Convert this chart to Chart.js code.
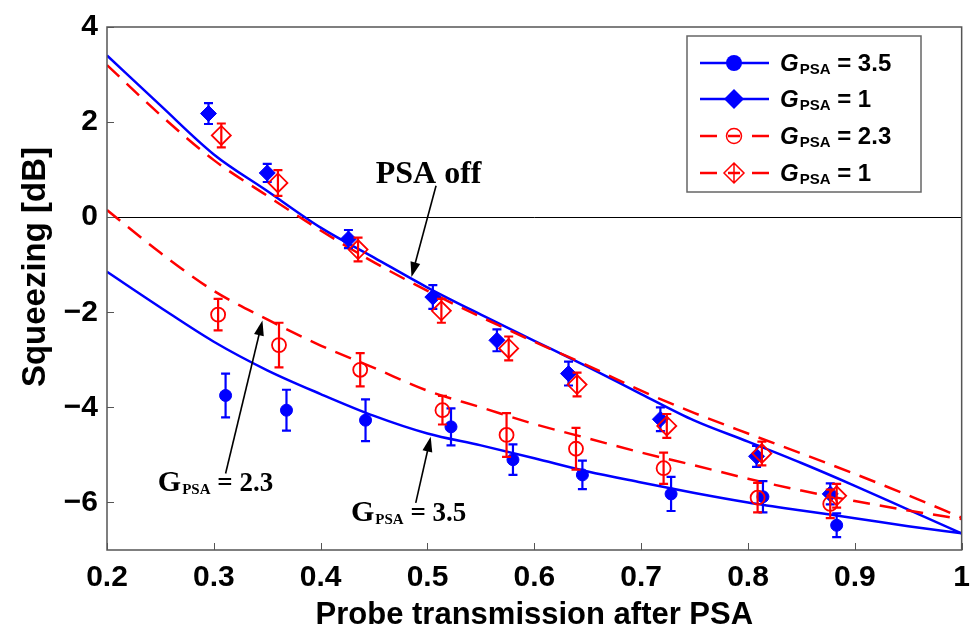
<!DOCTYPE html>
<html>
<head>
<meta charset="utf-8">
<script src="https://cdn.jsdelivr.net/npm/chart.js@4.4.0/dist/chart.umd.min.js"></script>
<style>
  html, body { margin: 0; background: #fff; }
</style>
</head>
<body>
<canvas id="chart" width="980" height="634"></canvas>
<script>
// ---------------- DATA ----------------
const xTicks = [0.2, 0.3, 0.4, 0.5, 0.6, 0.7, 0.8, 0.9, 1];
const yTicks = [-6, -4, -2, 0, 2, 4];

// theory curves, sampled along the transmission axis
const curveX   = [0.2, 0.25, 0.3, 0.35, 0.4, 0.45, 0.5, 0.55, 0.6, 0.65, 0.7, 0.75, 0.8, 0.85, 0.9, 0.95, 1.0];
const fitOffG1 = [3.4, 2.35, 1.32, 0.55, -0.22, -0.85, -1.48, -2.05, -2.6, -3.15, -3.72, -4.28, -4.72, -5.17, -5.65, -6.15, -6.65];
const fitG35   = [-1.15, -1.9, -2.62, -3.22, -3.72, -4.18, -4.55, -4.8, -5.07, -5.35, -5.58, -5.8, -6.0, -6.17, -6.33, -6.5, -6.65];
const fitG23   = [0.15, -0.75, -1.55, -2.15, -2.7, -3.17, -3.65, -4.0, -4.35, -4.65, -4.95, -5.22, -5.5, -5.75, -5.97, -6.17, -6.35];
const fitOnG1  = [3.2, 2.15, 1.2, 0.45, -0.28, -0.95, -1.55, -2.1, -2.62, -3.12, -3.65, -4.12, -4.55, -4.97, -5.4, -5.85, -6.32];

// measured points
const blueCircX   = [0.311, 0.368, 0.442, 0.522, 0.580, 0.645, 0.728, 0.814, 0.883];
const blueCircY   = [-3.75, -4.06, -4.27, -4.41, -5.10, -5.42, -5.82, -5.88, -6.48];
const blueCircErr = [0.46, 0.43, 0.44, 0.39, 0.32, 0.30, 0.36, 0.33, 0.25];

const blueDiaX   = [0.295, 0.350, 0.426, 0.505, 0.565, 0.632, 0.718, 0.808, 0.877];
const blueDiaY   = [2.18, 0.93, -0.46, -1.68, -2.59, -3.29, -4.25, -5.03, -5.82];
const blueDiaErr = [0.22, 0.19, 0.19, 0.25, 0.23, 0.25, 0.25, 0.22, 0.22];

const redCircX   = [0.304, 0.361, 0.437, 0.514, 0.574, 0.639, 0.721, 0.809, 0.877];
const redCircY   = [-2.05, -2.69, -3.21, -4.06, -4.58, -4.87, -5.28, -5.90, -6.03];
const redCircErr = [0.33, 0.47, 0.35, 0.30, 0.46, 0.44, 0.33, 0.31, 0.30];

const redDiaX   = [0.307, 0.360, 0.435, 0.513, 0.576, 0.640, 0.724, 0.813, 0.883];
const redDiaY   = [1.72, 0.72, -0.68, -1.97, -2.76, -3.52, -4.39, -4.97, -5.86];
const redDiaErr = [0.25, 0.27, 0.25, 0.25, 0.25, 0.25, 0.25, 0.25, 0.25];

const legendGains = ['3.5', '1', '2.3', '1'];

const blue = '#0000ff';
const red = '#ff0000';
const sans = '"Liberation Sans", Arial, sans-serif';
const serif = '"Liberation Serif", "Times New Roman", serif';

function pts(xs, ys) {
    return xs.map((v, i) => ({ x: v, y: ys[i] }));
}

// ---------- error bars, drawn right after their own dataset ----------
const errorBars = {
    id: 'errorBars',
    afterDatasetDraw(chart, args) {
        const ds = chart.data.datasets[args.index];
        if (!ds.err) return;
        const { ctx, scales: { x, y } } = chart;
        ctx.save();
        ctx.strokeStyle = ds.borderColor;
        ctx.lineWidth = 2.2;
        ds.data.forEach((p, j) => {
            const px = x.getPixelForValue(p.x);
            const y1 = y.getPixelForValue(p.y + ds.err[j]);
            const y2 = y.getPixelForValue(p.y - ds.err[j]);
            ctx.beginPath();
            ctx.moveTo(px, y1); ctx.lineTo(px, y2);
            ctx.moveTo(px - 4.5, y1); ctx.lineTo(px + 4.5, y1);
            ctx.moveTo(px - 4.5, y2); ctx.lineTo(px + 4.5, y2);
            ctx.stroke();
        });
        ctx.restore();
    }
};

// ---------- zero line under the data ----------
const zeroLine = {
    id: 'zeroLine',
    beforeDatasetsDraw(chart) {
        const { ctx, chartArea: a, scales: { y } } = chart;
        const py = Math.round(y.getPixelForValue(0)) + 0.5;
        ctx.save();
        ctx.strokeStyle = '#000';
        ctx.lineWidth = 1;
        ctx.beginPath(); ctx.moveTo(a.left, py); ctx.lineTo(a.right, py); ctx.stroke();
        ctx.restore();
    }
};

function arrow(ctx, x1, y1, x2, y2) {
    const ang = Math.atan2(y2 - y1, x2 - x1);
    const len = 15, half = 5;
    ctx.beginPath();
    ctx.moveTo(x1, y1);
    ctx.lineTo(x2 - Math.cos(ang) * len * 0.8, y2 - Math.sin(ang) * len * 0.8);
    ctx.stroke();
    ctx.beginPath();
    ctx.moveTo(x2, y2);
    ctx.lineTo(x2 - Math.cos(ang) * len - Math.sin(ang) * half, y2 - Math.sin(ang) * len + Math.cos(ang) * half);
    ctx.lineTo(x2 - Math.cos(ang) * len + Math.sin(ang) * half, y2 - Math.sin(ang) * len - Math.cos(ang) * half);
    ctx.closePath();
    ctx.fill();
}

// G with a small PSA subscript, then " = value"
function gLabel(ctx, x, y, big, small, rest, fam, italic, value) {
    ctx.textAlign = 'left';
    ctx.textBaseline = 'alphabetic';
    ctx.font = (italic ? 'italic ' : '') + 'bold ' + big + 'px ' + fam;
    ctx.fillText('G', x, y);
    x += ctx.measureText('G').width + 1;
    ctx.font = 'bold ' + small + 'px ' + fam;
    ctx.fillText('PSA', x, y + 3);
    x += ctx.measureText('PSA').width;
    ctx.font = 'bold ' + rest + 'px ' + fam;
    ctx.fillText(' = ' + value, x, y);
}

// ---------- frame, ticks, y title, annotations, legend ----------
const decorations = {
    id: 'decorations',
    afterDraw(chart) {
        const { ctx, chartArea: a, scales: { x, y } } = chart;
        ctx.save();
        // box
        ctx.strokeStyle = '#555';
        ctx.lineWidth = 1.5;
        ctx.strokeRect(a.left, a.top, a.right - a.left, a.bottom - a.top);
        // inward ticks
        ctx.lineWidth = 1;
        ctx.beginPath();
        xTicks.forEach(v => {
            const px = Math.round(x.getPixelForValue(v)) + 0.5;
            ctx.moveTo(px, a.bottom); ctx.lineTo(px, a.bottom - 7);
        });
        yTicks.forEach(v => {
            const py = Math.round(y.getPixelForValue(v)) + 0.5;
            ctx.moveTo(a.left, py); ctx.lineTo(a.left + 7, py);
        });
        ctx.stroke();

        // y axis title
        ctx.fillStyle = '#000';
        ctx.save();
        ctx.translate(36, 267);
        ctx.rotate(-Math.PI / 2);
        ctx.font = 'bold 33px ' + sans;
        ctx.textAlign = 'center';
        ctx.textBaseline = 'middle';
        ctx.fillText('Squeezing [dB]', 0, 0);
        ctx.restore();

        // annotations
        ctx.strokeStyle = '#000';
        ctx.lineWidth = 1.6;
        ctx.font = 'bold 32px ' + serif;
        ctx.textAlign = 'center';
        ctx.textBaseline = 'alphabetic';
        ctx.fillText('PSA off', x.getPixelForValue(0.501), y.getPixelForValue(0.725));
        arrow(ctx, x.getPixelForValue(0.508), y.getPixelForValue(0.66), x.getPixelForValue(0.485), y.getPixelForValue(-1.26));
        arrow(ctx, x.getPixelForValue(0.311), y.getPixelForValue(-5.39), x.getPixelForValue(0.3455), y.getPixelForValue(-2.175));
        arrow(ctx, x.getPixelForValue(0.489), y.getPixelForValue(-6.01), x.getPixelForValue(0.503), y.getPixelForValue(-4.62));
        gLabel(ctx, x.getPixelForValue(0.2476), y.getPixelForValue(-5.76), 30, 15, 27, serif, false, '2.3');
        gLabel(ctx, x.getPixelForValue(0.4284), y.getPixelForValue(-6.40), 30, 15, 27, serif, false, '3.5');

        // legend
        const bx = 687, by = 36, bw = 234, bh = 156;
        ctx.fillStyle = '#fff';
        ctx.fillRect(bx, by, bw, bh);
        ctx.strokeStyle = '#666';
        ctx.lineWidth = 1.5;
        ctx.strokeRect(bx, by, bw, bh);
        const rows = [63, 99, 136, 173];
        const mx = 734;
        rows.forEach((ry, i) => {
            const isBlue = i < 2;
            const col = isBlue ? blue : red;
            ctx.strokeStyle = col;
            ctx.fillStyle = col;
            ctx.lineWidth = 2.5;
            ctx.beginPath();
            if (isBlue) {
                ctx.moveTo(700, ry); ctx.lineTo(769, ry);
            } else {
                ctx.moveTo(700, ry); ctx.lineTo(717, ry);
                ctx.moveTo(728, ry); ctx.lineTo(740, ry);
                ctx.moveTo(752, ry); ctx.lineTo(769, ry);
            }
            ctx.stroke();
            ctx.beginPath();
            if (i === 0) {
                ctx.arc(mx, ry, 8, 0, Math.PI * 2); ctx.fill();
            } else if (i === 1) {
                ctx.moveTo(mx, ry - 10); ctx.lineTo(mx + 10, ry); ctx.lineTo(mx, ry + 10); ctx.lineTo(mx - 10, ry);
                ctx.closePath(); ctx.fill();
            } else if (i === 2) {
                ctx.lineWidth = 1.5;
                ctx.arc(mx, ry, 7.5, 0, Math.PI * 2); ctx.stroke();
            } else {
                ctx.lineWidth = 1.5;
                ctx.moveTo(mx, ry - 10); ctx.lineTo(mx + 10, ry); ctx.lineTo(mx, ry + 10); ctx.lineTo(mx - 10, ry);
                ctx.closePath();
                ctx.moveTo(mx, ry - 10); ctx.lineTo(mx, ry + 10);
                ctx.stroke();
            }
            ctx.fillStyle = '#000';
            gLabel(ctx, 780, ry + 8, 24, 15, 24, sans, true, legendGains[i]);
        });
        ctx.restore();
    }
};

const curveStyle = { showLine: true, pointRadius: 0, borderWidth: 2.5, tension: 0.4, cubicInterpolationMode: 'monotone', fill: false };

new Chart(document.getElementById('chart'), {
    type: 'scatter',
    data: {
        datasets: [
            { label: 'G 3.5 data', data: pts(blueCircX, blueCircY), err: blueCircErr, pointStyle: 'circle', pointRadius: 6,
              backgroundColor: blue, borderColor: blue, borderWidth: 1, order: 4 },
            { label: 'G 1 data', data: pts(blueDiaX, blueDiaY), err: blueDiaErr, pointStyle: 'rectRot', pointRadius: 8,
              backgroundColor: blue, borderColor: blue, borderWidth: 1, order: 3 },
            { label: 'G 2.3 data', data: pts(redCircX, redCircY), err: redCircErr, pointStyle: 'circle', pointRadius: 7,
              backgroundColor: 'rgba(0,0,0,0)', borderColor: red, borderWidth: 1.8, order: 2 },
            { label: 'G 1 data (red)', data: pts(redDiaX, redDiaY), err: redDiaErr, pointStyle: 'rectRot', pointRadius: 9.5,
              backgroundColor: 'rgba(0,0,0,0)', borderColor: red, borderWidth: 1.8, order: 1 },
            { label: 'G 3.5 fit', data: pts(curveX, fitG35), borderColor: blue, ...curveStyle, order: 8 },
            { label: 'PSA off fit', data: pts(curveX, fitOffG1), borderColor: blue, ...curveStyle, order: 7 },
            { label: 'G 2.3 fit', data: pts(curveX, fitG23), borderColor: red, borderDash: [17, 10], ...curveStyle, order: 6 },
            { label: 'G 1 fit', data: pts(curveX, fitOnG1), borderColor: red, borderDash: [17, 10], ...curveStyle, order: 5 }
        ]
    },
    options: {
        responsive: false,
        animation: false,
        layout: { padding: { top: 19, right: 15, left: 0, bottom: 0 } },
        plugins: { legend: { display: false }, tooltip: { enabled: false } },
        scales: {
            x: {
                type: 'linear', min: 0.2, max: 1,
                afterBuildTicks: s => { s.ticks = xTicks.map(v => ({ value: v })); },
                afterFit: s => { s.height = 84; },
                grid: { display: false, drawTicks: false },
                border: { display: false },
                ticks: { padding: 10, color: '#000', maxRotation: 0, font: { family: sans, size: 30, weight: 'bold' },
                         callback: v => String(v) },
                title: { display: true, text: 'Probe transmission after PSA', color: '#000',
                         font: { family: sans, size: 31, weight: 'bold' }, padding: { bottom: 0 } }
            },
            y: {
                type: 'linear', min: -7, max: 4,
                afterBuildTicks: s => { s.ticks = yTicks.map(v => ({ value: v })); },
                afterFit: s => { s.width = 107; },
                grid: { display: false, drawTicks: false },
                border: { display: false },
                ticks: { padding: 9, color: '#000', font: { family: sans, size: 30, weight: 'bold' },
                         callback: v => String(v).replace('-', '\u2212') },
                title: { display: false }
            }
        }
    },
    plugins: [zeroLine, errorBars, decorations]
});
</script>
</body>
</html>
